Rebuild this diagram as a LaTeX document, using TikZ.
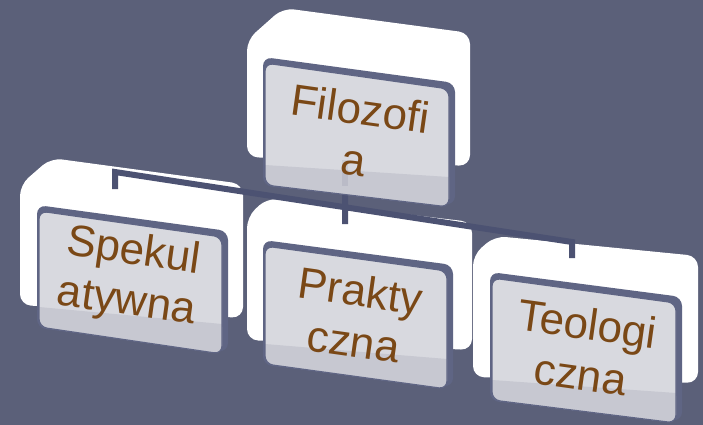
\documentclass[tikz,border=0pt]{standalone}
\usepackage{fontspec}
\setmainfont{Liberation Sans}
\usetikzlibrary{calc}
\definecolor{bg}{HTML}{5B6079}
\definecolor{edgec}{HTML}{5F6584}
\definecolor{facec}{HTML}{D8D9DF}
\definecolor{bandc}{HTML}{C7C8D1}
\definecolor{connc}{HTML}{4C5272}
\definecolor{txtc}{HTML}{7A4816}
\newcommand{\backbox}[5]{\fill[white, rounded corners=11pt] #1 -- #2 -- #3 -- #4 -- #5 -- cycle;}
\newcommand{\facebox}[4]{%
  \fill[edgec, rounded corners=9pt] ($#1+(-2,-6)$) -- ($#2+(6,-6)$) -- ($#3+(6,-2)$) -- ($#4+(-2,1)$) -- cycle;
  \begin{scope}
    \clip[rounded corners=8pt] #1 -- #2 -- #3 -- #4 -- cycle;
    \fill[facec] ($#1+(-10,-10)$) -- ($#2+(10,-10)$) -- ($#3+(10,10)$) -- ($#4+(-10,10)$) -- cycle;
    \fill[bandc] ($#4+(0,-20)$) -- ($#3+(0,-30)$) -- ($#3+(10,10)$) -- ($#4+(-10,10)$) -- cycle;
  \end{scope}
  \draw[edgec, line width=1.2pt, rounded corners=8pt] #1 -- #2 -- #3 -- #4 -- cycle;
}
\tikzset{
  lbl/.style={text=txtc, font=\fontsize{44}{51}\selectfont, align=center, rotate=-8, inner sep=0pt},
  connline/.style={draw=connc, line width=6pt, line join=miter, line cap=butt}
}
\begin{document}
\begin{tikzpicture}[x=1pt, y=-1pt]
\useasboundingbox (0,0) rectangle (703,425);
\fill[bg] (0,0) rectangle (703,425);
% white back shapes
\backbox{(247,40)}{(283,8)}{(470,33)}{(470,166)}{(247,157)}
\backbox{(20,185)}{(51,158)}{(243,184)}{(243,318)}{(20,305)}
\backbox{(247,217)}{(267,198)}{(472,222)}{(472,350)}{(247,340)}
\backbox{(473,255)}{(495,236)}{(698,256)}{(698,383)}{(473,377)}
% connectors
\coordinate (jL) at (115,172);
\coordinate (jR) at (572,242);
\coordinate (jS) at (115,189);
\coordinate (jT) at (572,258);
\coordinate (jM) at ($(jL)!{230/457}!(jR)$);
\coordinate (jP) at (345,224);
\coordinate (jFb) at (345,186);
\coordinate (jF) at (345,160);
\draw[connline] (jS) -- (jL) -- (jR) -- (jT);
\draw[connline] (jM) -- (jP);
\draw[connline] (jM) -- (jFb);
% face boxes
\facebox{(265,63)}{(449,89)}{(449,207)}{(265,185)}
\facebox{(39,211)}{(222,237)}{(222,354)}{(39,327)}
\facebox{(265,246)}{(447,271)}{(447,389)}{(265,364)}
\facebox{(492,278)}{(676,303)}{(676,423)}{(492,400)}
\draw[connline, opacity=0.1] (jFb) -- (jF);
% labels
\node[lbl] (filo) at (357,134) {Filozofi\\a};
\node[lbl] (spek) at (130,278) {Spekul\\atywna};
\node[lbl] (prak) at (357,316) {Prakty\\czna};
\node[lbl] (teo) at (584,349) {Teologi\\czna};
\end{tikzpicture}
\end{document}
